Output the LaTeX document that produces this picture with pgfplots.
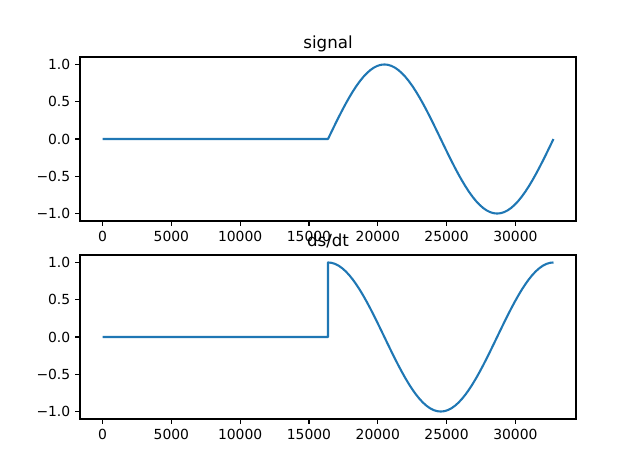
\documentclass[border=0pt]{standalone}
\usepackage{fontspec}
\setmainfont{DejaVu Sans}
\usepackage{pgfplots}
\pgfplotsset{compat=1.18}
\usepackage{pgfplotstable}

\definecolor{mplblue}{HTML}{1F77B4}

% signal s and its derivative d (normalised)
\pgfplotstableread{
x s d
0 0 0
16383 0 0
16384 0 1
16640 0.09802 0.99518
16896 0.19509 0.98079
17152 0.29028 0.95694
17408 0.38268 0.92388
17664 0.47140 0.88192
17920 0.55557 0.83147
18176 0.63439 0.77301
18432 0.70711 0.70711
18688 0.77301 0.63439
18944 0.83147 0.55557
19200 0.88192 0.47140
19456 0.92388 0.38268
19712 0.95694 0.29028
19968 0.98079 0.19509
20224 0.99518 0.09802
20480 1 0
20736 0.99518 -0.09802
20992 0.98079 -0.19509
21248 0.95694 -0.29028
21504 0.92388 -0.38268
21760 0.88192 -0.47140
22016 0.83147 -0.55557
22272 0.77301 -0.63439
22528 0.70711 -0.70711
22784 0.63439 -0.77301
23040 0.55557 -0.83147
23296 0.47140 -0.88192
23552 0.38268 -0.92388
23808 0.29028 -0.95694
24064 0.19509 -0.98079
24320 0.09802 -0.99518
24576 0 -1
24832 -0.09802 -0.99518
25088 -0.19509 -0.98079
25344 -0.29028 -0.95694
25600 -0.38268 -0.92388
25856 -0.47140 -0.88192
26112 -0.55557 -0.83147
26368 -0.63439 -0.77301
26624 -0.70711 -0.70711
26880 -0.77301 -0.63439
27136 -0.83147 -0.55557
27392 -0.88192 -0.47140
27648 -0.92388 -0.38268
27904 -0.95694 -0.29028
28160 -0.98079 -0.19509
28416 -0.99518 -0.09802
28672 -1 0
28928 -0.99518 0.09802
29184 -0.98079 0.19509
29440 -0.95694 0.29028
29696 -0.92388 0.38268
29952 -0.88192 0.47140
30208 -0.83147 0.55557
30464 -0.77301 0.63439
30720 -0.70711 0.70711
30976 -0.63439 0.77301
31232 -0.55557 0.83147
31488 -0.47140 0.88192
31744 -0.38268 0.92388
32000 -0.29028 0.95694
32256 -0.19509 0.98079
32512 -0.09802 0.99518
32767 0 1
}\sig

\pgfplotsset{mplax/.style={
    scale only axis, width=357.12pt, height=118.08pt,
    xmin=-1638, xmax=34405, ymin=-1.1, ymax=1.1,
    xtick={0,5000,...,30000},
    ytick={-1,-0.5,0,0.5,1},
    yticklabels={−1.0,−0.5,0.0,0.5,1.0},
    scaled x ticks=false,
    tick align=outside, xtick pos=bottom, ytick pos=left,
    major tick length=3.5pt,
    every tick/.style={black, line width=0.8pt},
    axis line style={line width=0.8pt},
    tick label style={font=\fontsize{10}{12}\selectfont},
    /pgf/number format/assume math mode=true,
    x tick label style={/pgf/number format/1000 sep={}},
    % the default title style already shifts by 6pt
    title style={font=\fontsize{12}{14}\selectfont, at={(0.5,1)},
        anchor=base, inner sep=0pt},
}}

\begin{document}
\begin{tikzpicture}
\path (0,0) rectangle (460.8pt,340.56pt);
\begin{axis}[mplax, at={(57.6pt,181.44pt)}, anchor=south west, title={signal}]
\addplot[mplblue, line width=1.5pt, line join=round] table[x=x, y=s]{\sig};
\end{axis}
\begin{axis}[mplax, at={(57.6pt,38.88pt)}, anchor=south west, title={ds/dt}]
\addplot[mplblue, line width=1.5pt, line join=round] table[x=x, y=d]{\sig};
\end{axis}
\end{tikzpicture}
\end{document}
